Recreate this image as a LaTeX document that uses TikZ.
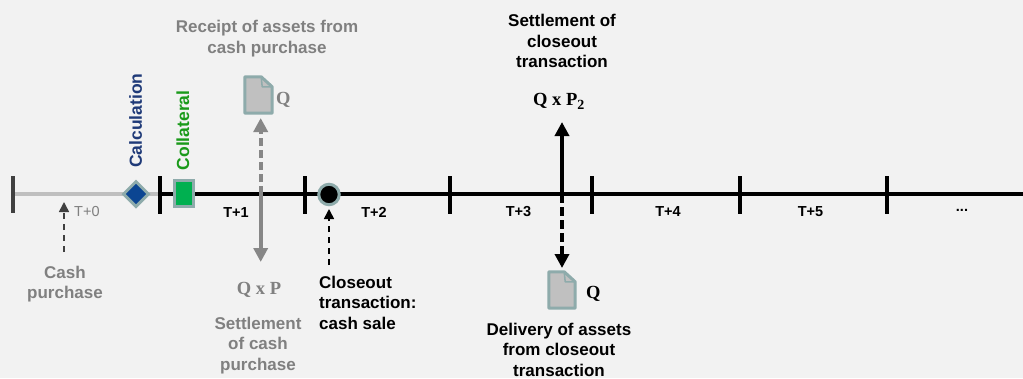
\documentclass[tikz,border=0pt]{standalone}
\usepackage{fontspec}
\setmainfont{Liberation Sans}
\newfontfamily\qfont{Liberation Serif}
\usetikzlibrary{arrows.meta,shapes.geometric}
\definecolor{bg}{HTML}{F2F2F2}
\definecolor{txtgray}{HTML}{808080}
\definecolor{arrgray}{HTML}{878787}
\definecolor{linegray}{HTML}{BFBFBF}
\definecolor{tickgray}{HTML}{404040}
\definecolor{edgec}{HTML}{8EABAB}
\definecolor{docfill}{HTML}{C0C0C0}
\definecolor{navy}{HTML}{0B4592}
\definecolor{navytxt}{HTML}{1F3A78}
\definecolor{grn}{HTML}{00B050}
\definecolor{grntxt}{HTML}{1A9A1A}
\tikzset{
  lbl/.style={font=\fontsize{17}{20.7}\selectfont\bfseries, inner sep=0pt, align=center},
  tlbl/.style={font=\fontsize{14.5}{17}\selectfont\bfseries, inner sep=0pt},
  qtxt/.style={font=\qfont\fontsize{18.5}{22}\selectfont\bfseries, inner sep=0pt},
  tickline/.style={line width=4pt},
  docbox/.style={minimum width=27pt, minimum height=36pt, inner sep=0pt},
  docshape/.style={fill=docfill, draw=edgec, line width=3pt, line join=round},
  docfold/.style={draw=edgec, line width=1.5pt, line join=round},
  thickarrow/.style={line width=4pt, -{Triangle[length=14pt,width=14pt]}},
  thinarrow/.style={line width=1.6pt, dash pattern=on 6pt off 5pt, -{Triangle[length=10pt,width=10pt]}},
}
\newcommand{\docicon}[1]{%
  \path[docshape] (#1.south west) -- (#1.north west) -- ([xshift=-11pt]#1.north east)
    -- ([yshift=-10pt]#1.north east) -- (#1.south east) -- cycle;
  \path[docfold] ([xshift=-11pt]#1.north east) -- ([xshift=-10pt,yshift=-10pt]#1.north east)
    -- ([yshift=-10pt]#1.north east);
}
\begin{document}
\begin{tikzpicture}[x=1pt,y=-1pt]
\fill[bg] (0,0) rectangle (1023,378);
\useasboundingbox (0,0) rectangle (1023,378);

% timeline coordinates
\coordinate (t0) at (13,194);
\coordinate (t1) at (160,194);
\coordinate (t2) at (304.5,194);
\coordinate (t3) at (450,194);
\coordinate (t4) at (592,194);
\coordinate (t5) at (739.5,194);
\coordinate (t6) at (886.5,194);
\coordinate (tend) at (1023,194);

\draw[linegray, line width=4pt] (t0) -- (t1);
\draw[black, line width=4pt] (t1) -- (tend);

\draw[tickline, tickgray] ([yshift=18pt]t0) -- ([yshift=-19pt]t0);
\foreach \t in {t1,t2,t3,t4,t5,t6}{
  \draw[tickline, black] ([yshift=18pt]\t) -- ([yshift=-20pt]\t);
}

% period labels
\node[font=\fontsize{14.5}{17}\selectfont, text=txtgray, inner sep=0pt, anchor=base west] (T0) at (74,216) {T+0};
\node[tlbl, anchor=base] (T1) at (236,217) {T+1};
\node[tlbl, anchor=base] (T2) at (374,217) {T+2};
\node[tlbl, anchor=base] (T3) at (518.5,216.5) {T+3};
\node[tlbl, anchor=base] (T4) at (668,216.5) {T+4};
\node[tlbl, anchor=base] (T5) at (810.5,216.5) {T+5};
\node[tlbl, anchor=base] (Tdots) at (962,211) {...};

% markers
\node[diamond, fill=navy, draw=edgec, line width=3pt, minimum size=26pt, inner sep=0pt] (calcmark) at (136,194) {};
\node[rectangle, fill=grn, draw=edgec, line width=3pt, minimum width=19pt, minimum height=26pt, inner sep=0pt] (collmark) at (183.5,193) {};
\node[circle, fill=black, draw=edgec, line width=3pt, minimum size=20.5pt, inner sep=0pt] (closemark) at (329,194.5) {};

\node[rotate=90, anchor=west, inner sep=0pt, font=\fontsize{17.5}{20}\selectfont\bfseries, text=navytxt] (calclbl) at (135.5,168) {Calculation};
\node[rotate=90, anchor=west, inner sep=0pt, font=\fontsize{17.5}{20}\selectfont\bfseries, text=grntxt] (colllbl) at (182.8,170.5) {Collateral};

% cash purchase
\node[lbl, text=txtgray, anchor=north] (cashp) at (65,265.5) {Cash\\purchase};
\coordinate (cpfrom) at (64,252);
\coordinate (cpto) at (64,202);
\draw[thinarrow, tickgray] (cpfrom) -- (cpto);

% receipt of assets / settlement of cash purchase
\node[lbl, text=txtgray, anchor=north] (receipt) at (267,20) {Receipt of assets from\\cash purchase};
\node[docbox] (doc1) at (258.5,95) {};
\docicon{doc1}
\node[qtxt, text=txtgray, anchor=base west] (q1) at (276,104) {Q};
\coordinate (gmid) at (260.7,194);
\coordinate (gup) at (260.7,118);
\coordinate (gdown) at (260.7,262);
\draw[thickarrow, arrgray, dash pattern=on 8pt off 4pt] (gmid) -- (gup);
\draw[thickarrow, arrgray] (gmid) -- (gdown);
\node[qtxt, text=txtgray, anchor=base] (qp1) at (259,294) {Q x P};
\node[lbl, text=txtgray, anchor=north] (settlecash) at (258,316.5) {Settlement\\of cash\\purchase};

% closeout transaction
\coordinate (cofrom) at (329,265);
\coordinate (coto) at (329,209);
\draw[thinarrow, black] (cofrom) -- (coto);
\node[lbl, align=left, anchor=north west] (closeout) at (319,275.5) {Closeout\\transaction:\\cash sale};

% settlement of closeout transaction
\node[lbl, anchor=north] (settleclose) at (562,14) {Settlement of\\closeout\\transaction};
\node[qtxt, anchor=base west] (qp2) at (533,105) {Q x P\raisebox{-4.5pt}{\fontsize{14}{14}\selectfont 2}};
\coordinate (bmid) at (562,194);
\coordinate (bup) at (562,122);
\coordinate (bdown) at (562,268);
\draw[thickarrow, black] (bmid) -- (bup);
\draw[thickarrow, black, dash pattern=on 9pt off 4pt] (bmid) -- (bdown);
\node[docbox, minimum width=26pt] (doc2) at (562,290) {};
\docicon{doc2}
\node[qtxt, anchor=base west] (q2) at (586,298) {Q};
\node[lbl, anchor=north] (delivery) at (559,322.5) {Delivery of assets\\from closeout\\transaction};
\end{tikzpicture}
\end{document}
